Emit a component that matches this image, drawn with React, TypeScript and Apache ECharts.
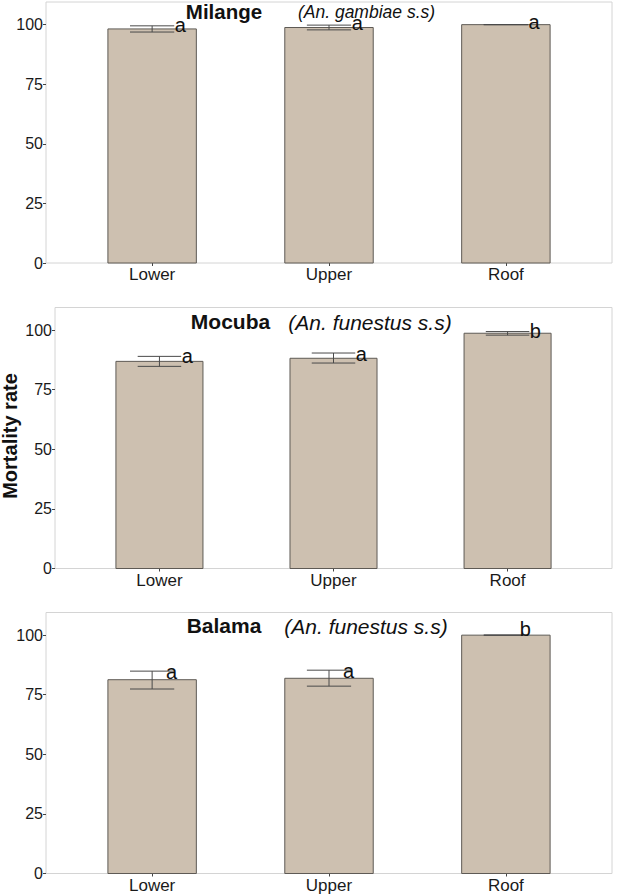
import React, { useEffect, useRef } from "react";
import * as echarts from "echarts";

const categories = ["Lower", "Upper", "Roof"];
const yTicks = [0, 25, 50, 75, 100];

const milangeMean = [98.2, 98.8, 100];
const milangeLow = [96.9, 97.8, 100];
const milangeHigh = [99.5, 99.8, 100];
const milangeLetters = ["a", "a", "a"];
const milangeLetterY = [99.7, 100.5, 101.2];

const mocubaMean = [86.9, 88.2, 98.7];
const mocubaLow = [84.8, 86.2, 97.9];
const mocubaHigh = [89.0, 90.4, 99.4];
const mocubaLetters = ["a", "a", "b"];
const mocubaLetterY = [89.2, 90.0, 99.7];

const balamaMean = [81.3, 81.9, 100];
const balamaLow = [77.4, 78.6, 100];
const balamaHigh = [84.9, 85.3, 100];
const balamaLetters = ["a", "a", "b"];
const balamaLetterY = [84.5, 84.8, 102.4];

const FONT = "'Liberation Sans', Arial, sans-serif";

export default function App() {
  const ref = useRef<HTMLDivElement>(null);
  useEffect(() => {
    if (!ref.current) return;
    const chart = echarts.init(ref.current, undefined, { renderer: "svg" });

    const panels = [
      { mean: milangeMean, low: milangeLow, high: milangeHigh, letters: milangeLetters, letterY: milangeLetterY, grid: { left: 46, top: 2, width: 566, height: 261 }, letterOffset: 0.16 },
      { mean: mocubaMean, low: mocubaLow, high: mocubaHigh, letters: mocubaLetters, letterY: mocubaLetterY, grid: { left: 55, top: 307.5, width: 557, height: 261 }, letterOffset: 0.16 },
      { mean: balamaMean, low: balamaLow, high: balamaHigh, letters: balamaLetters, letterY: balamaLetterY, grid: { left: 46, top: 612.5, width: 566, height: 261 }, letterOffset: 0.11 },
    ];

    const grids: any[] = [];
    const xAxes: any[] = [];
    const yAxes: any[] = [];
    const series: any[] = [];

    panels.forEach((p, k) => {
      grids.push({ ...p.grid, show: true, borderColor: "#d4d4d4", borderWidth: 1, backgroundColor: "transparent" });
      xAxes.push({
        type: "value",
        gridIndex: k,
        min: 0.4,
        max: 3.6,
        splitLine: { show: false },
        axisLine: { show: false },
        axisTick: { show: true, length: 3, customValues: [1, 2, 3], lineStyle: { color: "#444" } },
        axisLabel: {
          customValues: [1, 2, 3],
          formatter: (v: number) => categories[Math.round(v) - 1] || "",
          fontSize: 17,
          color: "#1a1a1a",
          fontFamily: FONT,
          margin: 3,
        },
      });
      yAxes.push({
        type: "value",
        gridIndex: k,
        min: 0,
        max: 109.5,
        splitLine: { show: false },
        axisLine: { show: false },
        axisTick: { show: true, length: 3, customValues: yTicks, lineStyle: { color: "#444" } },
        axisLabel: {
          customValues: yTicks,
          fontSize: 16,
          color: "#1a1a1a",
          fontFamily: FONT,
          margin: 3,
        },
      });

      series.push({
        type: "custom",
        xAxisIndex: k,
        yAxisIndex: k,
        data: p.mean.map((v, i) => [i + 1, v]),
        encode: { x: 0, y: 1 },
        renderItem: (params: any, api: any) => {
          const x = api.value(0);
          const v = api.value(1);
          const tl = api.coord([x - 0.25, v]);
          const br = api.coord([x + 0.25, 0]);
          return {
            type: "rect",
            shape: { x: tl[0], y: tl[1], width: br[0] - tl[0], height: br[1] - tl[1] },
            style: { fill: "#cdc0b0", stroke: "#5e5a55", lineWidth: 1 },
          };
        },
      });

      series.push({
        type: "custom",
        xAxisIndex: k,
        yAxisIndex: k,
        data: p.mean.map((_, i) => [i + 1, p.low[i], p.high[i]]),
        encode: { x: 0, y: [1, 2] },
        renderItem: (params: any, api: any) => {
          const x = api.value(0);
          const lo = api.coord([x, api.value(1)]);
          const hi = api.coord([x, api.value(2)]);
          const l = api.coord([x - 0.125, 0])[0];
          const r = api.coord([x + 0.125, 0])[0];
          const st = { stroke: "#4a4a4a", lineWidth: 1 };
          return {
            type: "group",
            children: [
              { type: "line", shape: { x1: lo[0], y1: lo[1], x2: hi[0], y2: hi[1] }, style: st },
              { type: "line", shape: { x1: l, y1: lo[1], x2: r, y2: lo[1] }, style: st },
              { type: "line", shape: { x1: l, y1: hi[1], x2: r, y2: hi[1] }, style: st },
            ],
          };
        },
      });

      series.push({
        type: "custom",
        xAxisIndex: k,
        yAxisIndex: k,
        data: p.letterY.map((v, i) => [i + 1 + p.letterOffset, v]),
        encode: { x: 0, y: 1 },
        renderItem: (params: any, api: any) => {
          const pt = api.coord([api.value(0), api.value(1)]);
          return {
            type: "text",
            x: pt[0],
            y: pt[1],
            style: {
              text: p.letters[params.dataIndex],
              fontSize: 20,
              fontFamily: FONT,
              fill: "#111",
              align: "center",
              verticalAlign: "middle",
            },
          };
        },
      });
    });

    const titleText = (x: number, y: number, text: string, bold: boolean, size: number) => ({
      type: "text",
      x,
      y,
      style: {
        text,
        fontSize: size,
        fontWeight: bold ? "bold" : "normal",
        fontStyle: bold ? "normal" : "italic",
        fontFamily: FONT,
        fill: "#111",
        align: "center",
        verticalAlign: "middle",
      },
    });

    chart.setOption({
      animation: false,
      backgroundColor: "#fff",
      grid: grids,
      xAxis: xAxes,
      yAxis: yAxes,
      series,
      graphic: [
        titleText(224, 11, "Milange", true, 20.5),
        titleText(366.5, 12, "(An. gambiae s.s)", false, 17.5),
        titleText(230.5, 321, "Mocuba", true, 21),
        titleText(370, 322.5, "(An. funestus s.s)", false, 21),
        titleText(224, 625, "Balama", true, 21),
        titleText(366, 626, "(An. funestus s.s)", false, 21),
        {
          type: "text",
          x: 10,
          y: 436,
          rotation: Math.PI / 2,
          style: {
            text: "Mortality rate",
            fontSize: 20,
            fontWeight: "bold",
            fontFamily: FONT,
            fill: "#111",
            align: "center",
            verticalAlign: "middle",
          },
        },
      ],
    });
    return () => chart.dispose();
  }, []);
  return <div ref={ref} style={{ position: "absolute", left: 0, top: 0, width: 617, height: 896 }} />;
}
